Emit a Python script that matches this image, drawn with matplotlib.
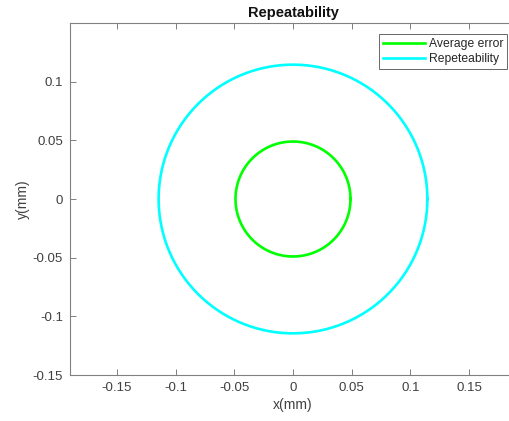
import numpy as np
import matplotlib.pyplot as plt

plt.rcParams['font.family'] = ['Liberation Sans', 'DejaVu Sans']

# Radii of the two circles (mm)
avg_error = 0.049
repeatability = 0.1145
labels = ['Average error', 'Repeteability']
colors = ['#00ff00', '#00ffff']

xticks = [-0.15, -0.1, -0.05, 0, 0.05, 0.1, 0.15]
yticks = [-0.15, -0.1, -0.05, 0, 0.05, 0.1]

theta = np.linspace(0, 2 * np.pi, 400)

fig = plt.figure(figsize=(5.10, 4.21), dpi=100)
# axes run a little past the right edge of the picture, like the cropped original
ax = fig.add_axes([70 / 510, 46 / 421, 446 / 510, 352 / 421])

for r, lab, c in zip([avg_error, repeatability], labels, colors):
    ax.plot(r * np.cos(theta), r * np.sin(theta), color=c, linewidth=1.9, label=lab)

ax.set_xlim(-0.19, 0.19)
ax.set_ylim(-0.15, 0.15)
ax.set_xticks(xticks)
ax.set_yticks(yticks)
ax.set_xticklabels(['-0.15', '-0.1', '-0.05', '0', '0.05', '0.1', '0.15'])
ax.set_yticklabels(['-0.15', '-0.1', '-0.05', '0', '0.05', '0.1'])

for s in ax.spines.values():
    s.set_color('#808080')
    s.set_linewidth(0.8)
ax.spines['right'].set_visible(False)
ax.tick_params(direction='in', top=True, right=False, length=4, width=0.7,
               colors='#808080', labelcolor='#404040', labelsize=9.5, pad=5)

ax.set_xlabel('x(mm)', fontsize=10, color='#404040', labelpad=3)
ax.set_ylabel('y(mm)', fontsize=10, color='#404040', labelpad=2)
ax.set_title('Repeatability', fontsize=10.5, fontweight='bold', color='#111111', pad=4)

leg = ax.legend(loc='upper right', bbox_to_anchor=((507 - 70) / 446, 1 - 11 / 352),
                fontsize=8.7, frameon=True, fancybox=False, handlelength=3.5,
                borderpad=0.32, labelspacing=0.25, handletextpad=0.3, borderaxespad=0)
leg.get_frame().set_edgecolor('#404040')
leg.get_frame().set_linewidth(0.7)
for t in leg.get_texts():
    t.set_color('#262626')

fig.savefig('out.png', dpi=100)
